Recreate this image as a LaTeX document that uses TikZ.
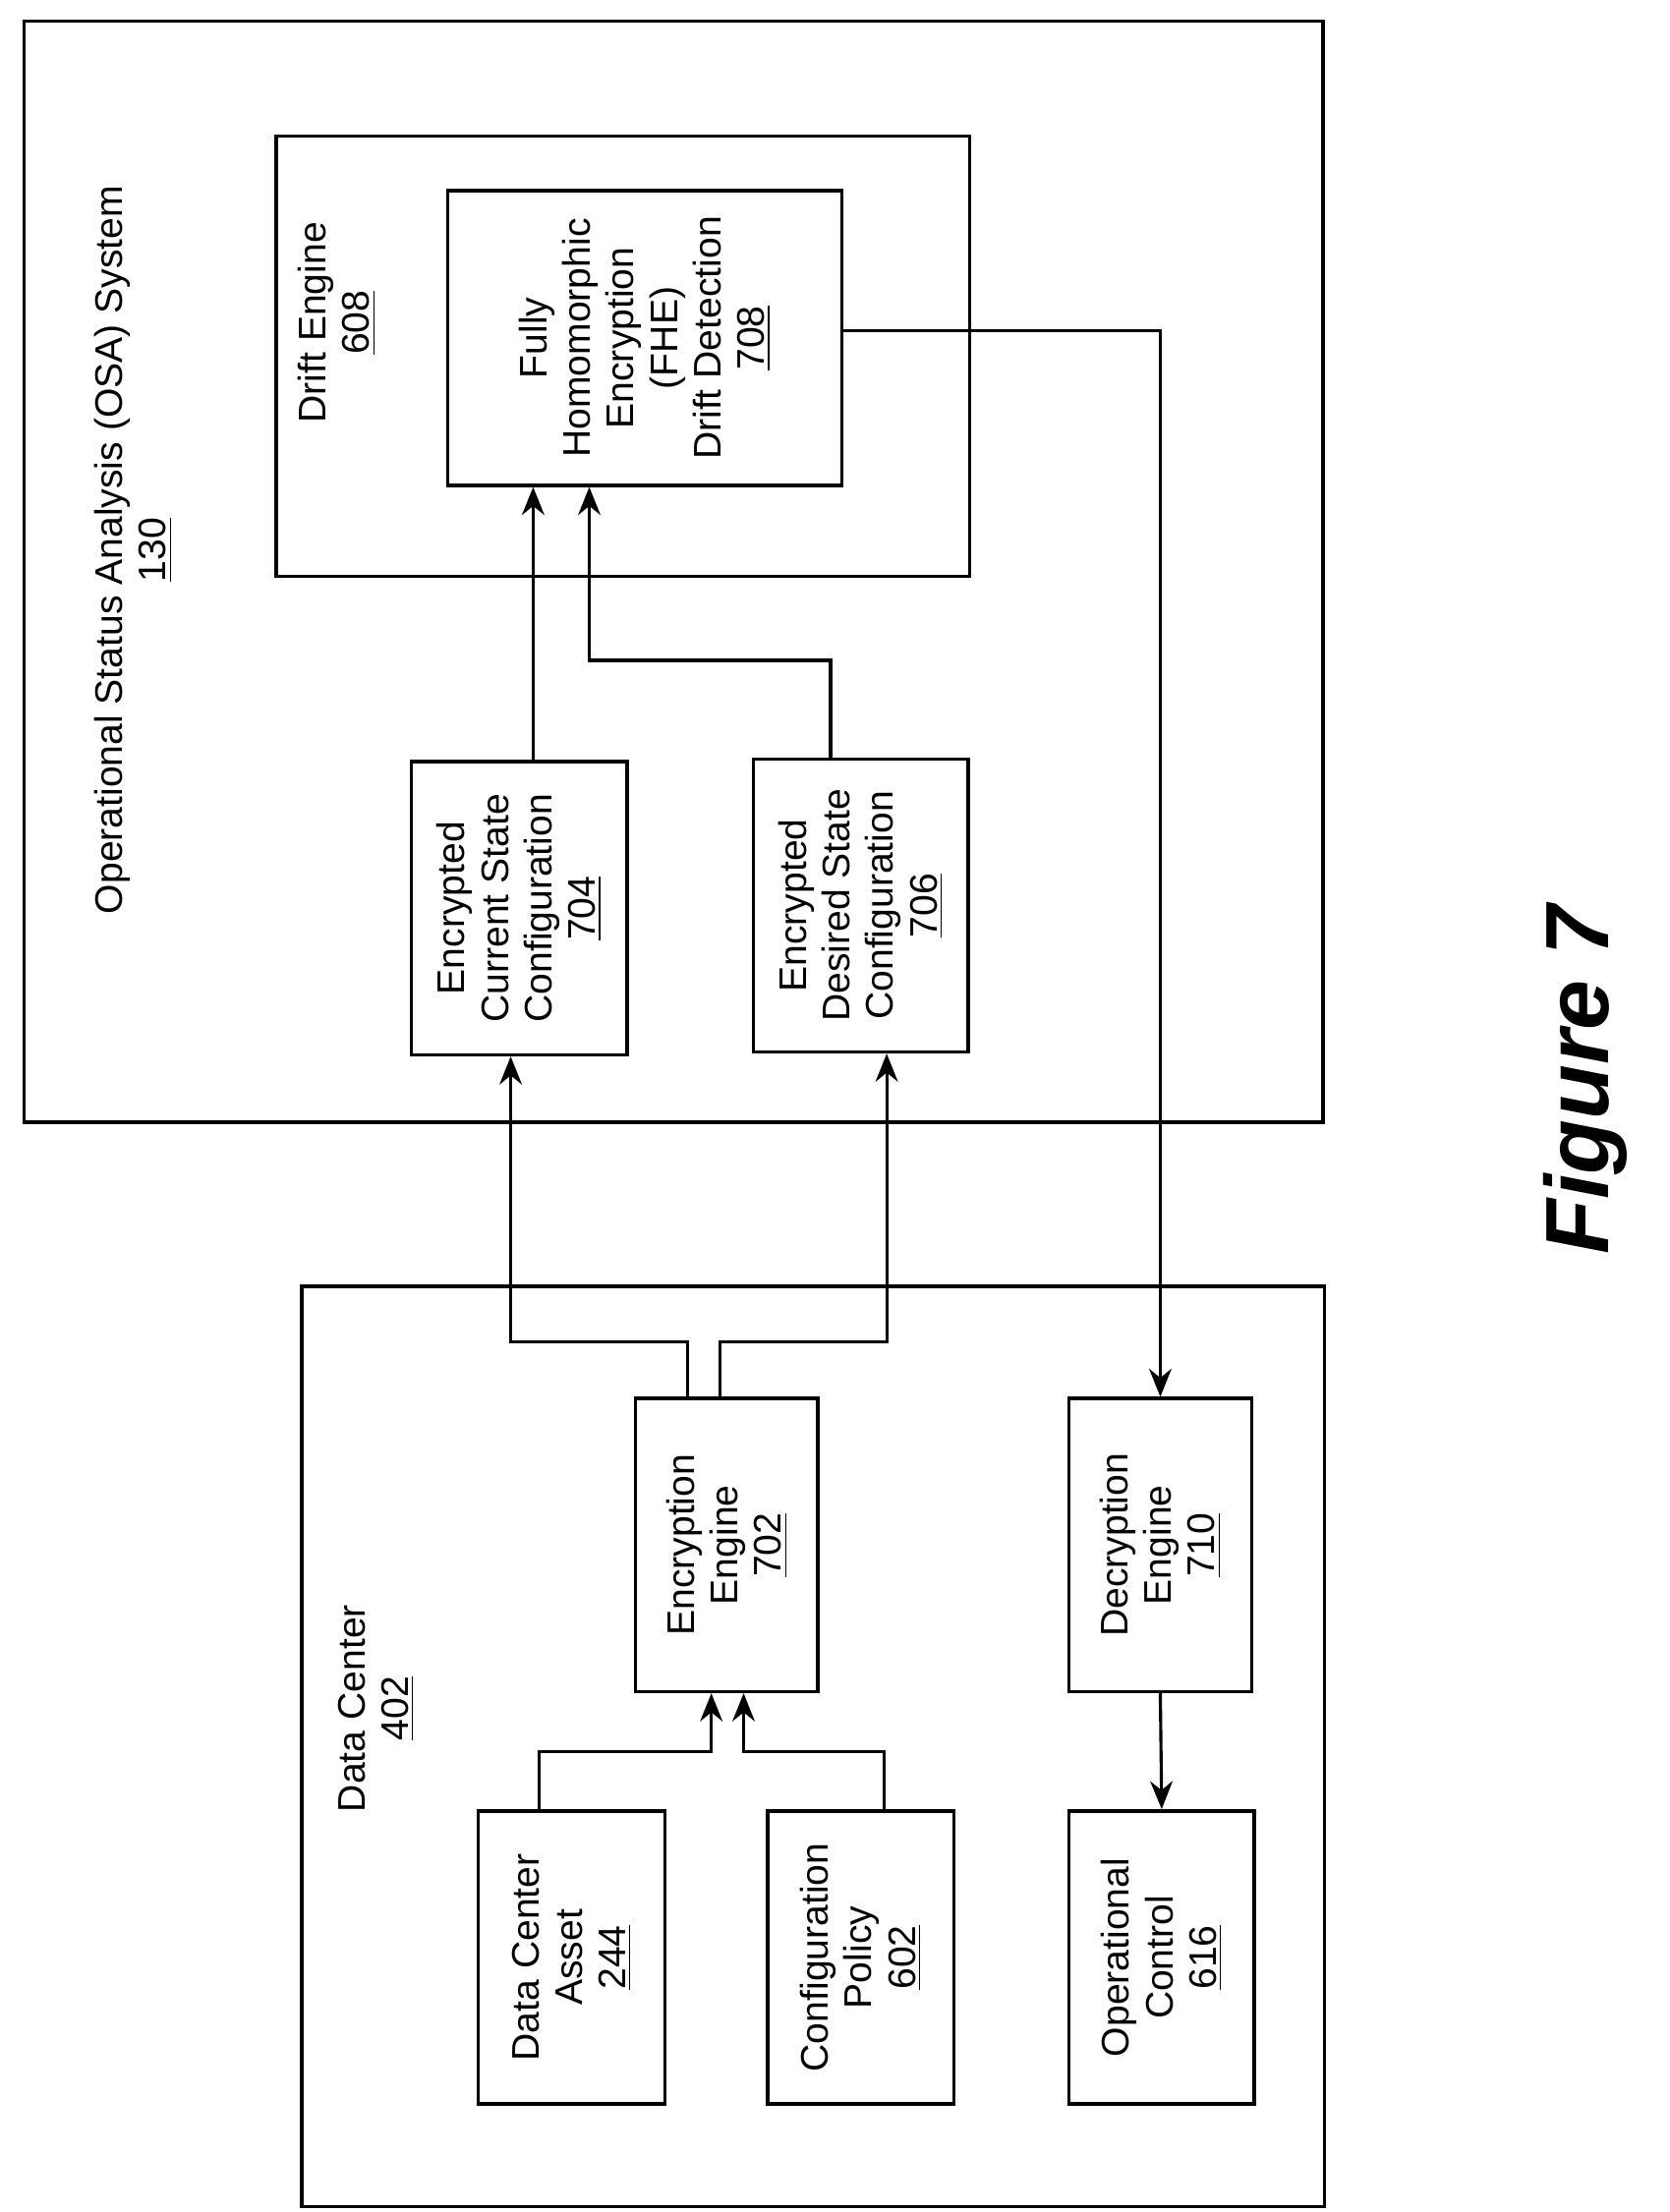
\documentclass[tikz,border=0pt]{standalone}
\usepackage{fontspec}
\setmainfont{Liberation Sans}
\usetikzlibrary{arrows.meta}
\begin{document}
\fontsize{13.7}{15.5}\selectfont
\begin{tikzpicture}[x=0.5pt,y=-0.5pt,
  box/.style={draw,line width=1.2pt,inner sep=0pt},
  txt/.style={rotate=90,align=center,inner sep=0pt},
  arr/.style={line width=1.1pt,-{Stealth[length=10pt,width=8pt]}}]
\useasboundingbox (0,0) rectangle (1190,1577);
\node[box,minimum width=463pt,minimum height=392.5pt] (osa) at (480,407.5) {};
\node[box,minimum width=247pt,minimum height=157pt] (drift) at (444,254) {};
\node[box,minimum width=140.5pt,minimum height=105pt] (fhe) at (459.5,241) {};
\node[box,minimum width=77pt,minimum height=104.5pt] (e704) at (370,647.5) {};
\node[box,minimum width=76.5pt,minimum height=104.5pt] (e706) at (613.5,645.5) {};
\node[box,minimum width=364.5pt,minimum height=328pt] (dc) at (579.5,1245) {};
\node[box,minimum width=65pt,minimum height=104.5pt] (enc) at (518,1101.5) {};
\node[box,minimum width=65pt,minimum height=104.5pt] (dec) at (827,1101.5) {};
\node[box,minimum width=66.5pt,minimum height=104.5pt] (asset) at (407.5,1395.5) {};
\node[box,minimum width=66.5pt,minimum height=104.5pt] (pol) at (613.5,1395.5) {};
\node[box,minimum width=66pt,minimum height=104.5pt] (ctrl) at (828,1395.5) {};

\node[txt] (tosa) at (95,392) {Operational Status Analysis (OSA) System\\\underline{130}};
\node[txt] (tdrift) at (240,230) {Drift Engine\\\underline{608}};
\node[txt] (tdc) at (268,1218) {Data Center\\\underline{402}};
\node[txt] at (fhe.center) {Fully\\Homomorphic\\Encryption\\(FHE)\\Drift Detection\\\underline{708}};
\node[txt] at (e704.center) {Encrypted\\Current State\\Configuration\\\underline{704}};
\node[txt] at (e706.center) {Encrypted\\Desired State\\Configuration\\\underline{706}};
\node[txt] at (enc.center) {Encryption\\Engine\\\underline{702}};
\node[txt] at (dec.center) {Decryption\\Engine\\\underline{710}};
\node[txt] at (asset.center) {Data Center\\Asset\\\underline{244}};
\node[txt] at (pol.center) {Configuration\\Policy\\\underline{602}};
\node[txt] at (ctrl.center) {Operational\\Control\\\underline{616}};
\node[txt,font=\fontsize{32}{36}\selectfont\bfseries\itshape] (fig) at (1130,770) {Figure 7};

\draw[arr] ([xshift=5pt]e704.north) -- ([xshift=5pt]e704.north |- fhe.south);
\draw[arr] ([xshift=-10.75pt]e706.north) -- ++(0,-69) -| ([xshift=-19.75pt]fhe.south);
\draw[arr] ([yshift=2.5pt]fhe.east) -| (dec.north);
\draw[arr] ([xshift=-14pt]enc.north) -- ++(0,-39) -| ([xshift=-3pt]e704.south);
\draw[arr] ([xshift=-2.5pt]enc.north) -- ++(0,-39) -| ([xshift=9.25pt]e706.south);
\draw[arr] ([xshift=-11.75pt]asset.north) -- ++(0,-41) -| ([xshift=-5.5pt]enc.south);
\draw[arr] ([xshift=8.25pt]pol.north) -- ++(0,-41) -| ([xshift=6pt]enc.south);
\draw[arr] (dec.south) -- (ctrl.north);
\end{tikzpicture}
\end{document}
